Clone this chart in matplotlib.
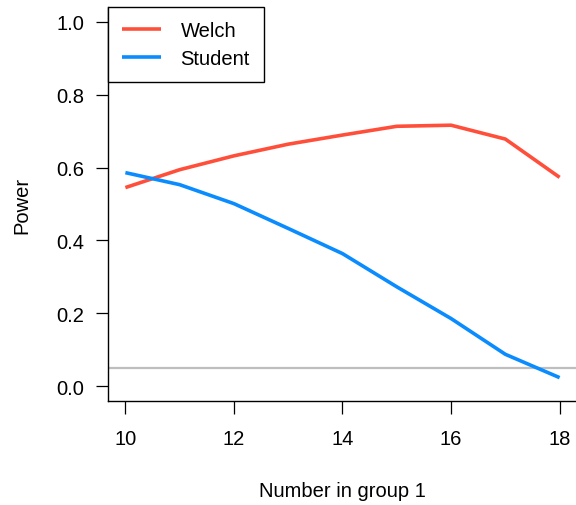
import numpy as np
from matplotlib import pyplot as plt

plt.rcParams['font.family'] = ['Liberation Sans', 'DejaVu Sans']

# power of each test as group 1 grows
groupSizes = [10, 11, 12, 13, 14, 15, 16, 17, 18]
welchPower = [0.545, 0.594, 0.632, 0.664, 0.689, 0.713, 0.716, 0.678, 0.573]
studentPower = [0.586, 0.553, 0.501, 0.433, 0.364, 0.273, 0.186, 0.088, 0.024]
alphaLevel = 0.05

xTicks = [10, 12, 14, 16, 18]
yTicks = [0.0, 0.2, 0.4, 0.6, 0.8, 1.0]

welchColour = '#FF4F3B'
studentColour = '#0A8CFF'
fontSize = 14.5

fig = plt.figure(figsize=(5.76, 5.06), dpi=100)
ax = fig.add_axes([108 / 576, 104 / 506, 469 / 576, 394 / 506])

ax.axhline(alphaLevel, color='#BEBEBE', lw=1.6, zorder=1)
ax.plot(groupSizes, welchPower, color=welchColour, lw=2.6, label='Welch',
        solid_capstyle='butt', zorder=2)
ax.plot(groupSizes, studentPower, color=studentColour, lw=2.6, label='Student',
        solid_capstyle='butt', zorder=2)

# R-like extents: 4% padding around the data range
ax.set_xlim(9.68, 18.32)
ax.set_ylim(-0.04, 1.04)
ax.set_xticks(xTicks)
ax.set_yticks(yTicks)
ax.set_yticklabels(['%.1f' % t for t in yTicks])

for side in ('top', 'right'):
    ax.spines[side].set_visible(False)
for side in ('left', 'bottom'):
    ax.spines[side].set_linewidth(1.0)
ax.tick_params(axis='both', direction='out', length=9, width=0.9,
               labelsize=fontSize, colors='black')
ax.tick_params(axis='x', pad=11)
ax.tick_params(axis='y', pad=8)

ax.set_xlabel('Number in group 1', fontsize=fontSize, labelpad=24)
ax.set_ylabel('Power', fontsize=fontSize, labelpad=18)

leg = ax.legend(loc='upper left', bbox_to_anchor=(0, 1), borderaxespad=0,
                fontsize=fontSize, fancybox=False, framealpha=1, edgecolor='black',
                handlelength=1.95, handletextpad=0.95, labelspacing=0.42,
                borderpad=0.7)
leg.get_frame().set_linewidth(1.0)

fig.savefig('out.png', dpi=100)
